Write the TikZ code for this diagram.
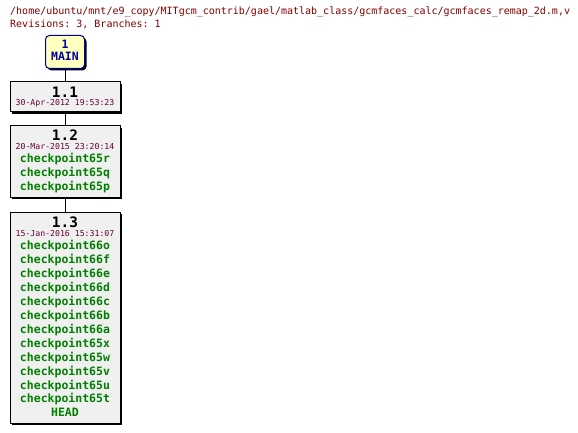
\documentclass[tikz,border=0pt]{standalone}
\usepackage{fontspec}
\setmonofont{DejaVu Sans Mono}
\usetikzlibrary{shadows}
\definecolor{pathred}{HTML}{800000}
\definecolor{datered}{HTML}{660033}
\definecolor{taggreen}{HTML}{007F00}
\definecolor{mainblue}{HTML}{0000A0}
\definecolor{boxgray}{HTML}{F0F0F0}
\definecolor{mainfill}{HTML}{FFFFC0}
\begin{document}
\begin{tikzpicture}[x=1pt, y=-1pt,
		revbox/.style = {draw, line width=1pt, fill=boxgray, minimum width=110pt, inner sep=0pt,
			drop shadow = {shadow xshift=2pt, shadow yshift=-2pt, fill=black, opacity=1}},
		mainbox/.style = {revbox, draw=mainblue, fill=mainfill, rounded corners=4pt, minimum width=39pt},
		revnum/.style = {anchor=base, inner sep=0pt, font=\ttfamily\bfseries\fontsize{14.4}{15}\selectfont},
		revdate/.style = {anchor=base, inner sep=0pt, text=datered, font=\ttfamily\fontsize{8.2}{9}\selectfont},
		tagtext/.style = {anchor=base, inner sep=0pt, text=taggreen, font=\ttfamily\bfseries\fontsize{11.5}{12}\selectfont},
		maintext/.style = {anchor=base, inner sep=0pt, text=mainblue, font=\ttfamily\bfseries\fontsize{11.5}{12}\selectfont},
		headtext/.style = {anchor=base west, inner sep=0pt, text=pathred, font=\ttfamily\fontsize{10}{11}\selectfont}]
	\useasboundingbox (0,0) rectangle (578,433);
	% header
	\node[headtext] (path) at (10,15) {/home/ubuntu/mnt/e9\_copy/MITgcm\_contrib/gael/matlab\_class/gcmfaces\_calc/gcmfaces\_remap\_2d.m,v};
	\node[headtext] (info) at (10,28) {Revisions: 3, Branches: 1};
	% boxes
	\node[mainbox, minimum height=33pt] (main) at (65,52) {};
	\node[revbox, minimum height=30pt] (r11) at (65,97) {};
	\node[revbox, minimum height=71pt] (r12) at (65,161.5) {};
	\node[revbox, minimum height=211pt] (r13) at (65,317.5) {};
	\draw[line width=1pt] (main) -- (r11);
	\draw[line width=1pt] (r11) -- (r12);
	\draw[line width=1pt] (r12) -- (r13);
	% main branch
	\node[maintext] (mnum) at (65,48.3) {1};
	\node[maintext] (mname) at (65,61) {MAIN};
	% 1.1
	\node[revnum] (n11) at (65,97.7) {1.1};
	\node[revdate] (d11) at (65,106) {30-Apr-2012 19:53:23};
	% 1.2
	\node[revnum] (n12) at (65,140.7) {1.2};
	\node[revdate] (d12) at (65,149.7) {20-Mar-2015 23:20:14};
	\foreach \t [count=\i from 0] in {checkpoint65r,checkpoint65q,checkpoint65p}
		\node[tagtext] (t12\i) at (65,162.7+14*\i) {\t};
	% 1.3
	\node[revnum] (n13) at (65,227.7) {1.3};
	\node[revdate] (d13) at (65,236) {15-Jan-2016 15:31:07};
	\foreach \t [count=\i from 0] in {checkpoint66o,checkpoint66f,checkpoint66e,checkpoint66d,checkpoint66c,checkpoint66b,checkpoint66a,checkpoint65x,checkpoint65w,checkpoint65v,checkpoint65u,checkpoint65t,HEAD}
		\node[tagtext] (t13\i) at (65,249.5+13.95*\i) {\t};
\end{tikzpicture}
\end{document}
